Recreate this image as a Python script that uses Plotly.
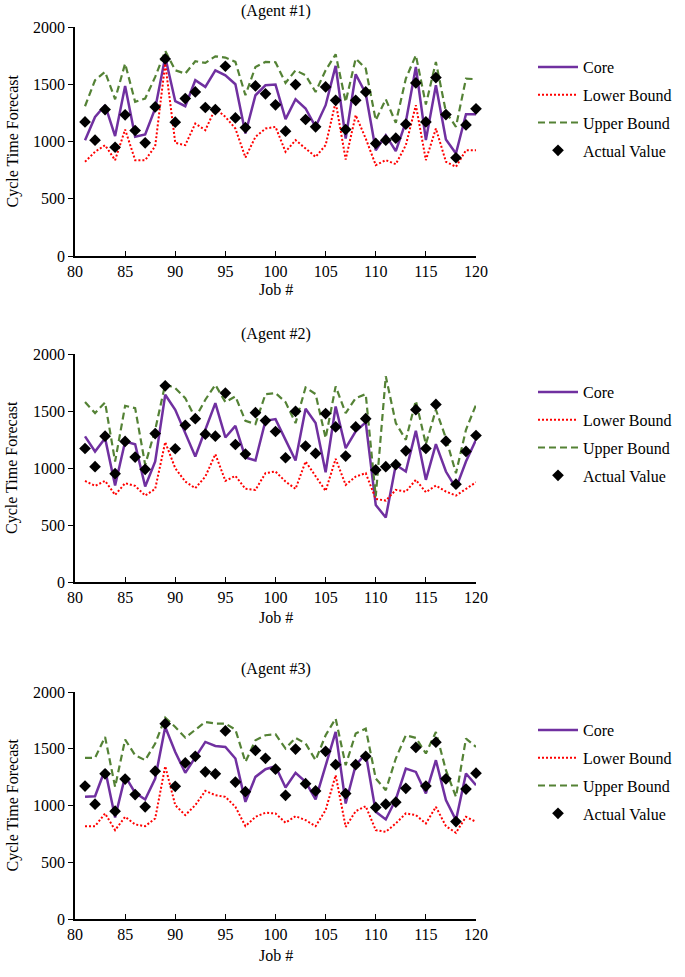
import plotly.graph_objects as go

jobs = list(range(81, 121))

actual = [1171, 1012, 1279, 950, 1233, 1096, 988, 1302, 1721, 1169,
          1375, 1433, 1297, 1279, 1657, 1206, 1122, 1485, 1416, 1320,
          1090, 1497, 1192, 1128, 1477, 1360, 1105, 1360, 1433, 983,
          1012, 1029, 1151, 1512, 1171, 1558, 1235, 858, 1145, 1285]

core1 = [1012, 1215, 1317, 1047, 1485, 1041, 1061, 1288, 1738, 1352,
         1308, 1535, 1477, 1622, 1578, 1500, 1070, 1404, 1491, 1497,
         1195, 1369, 1288, 1128, 1317, 1660, 1026, 1587, 1419, 924,
         1055, 916, 1171, 1651, 1012, 1491, 1017, 895, 1238, 1238]
upper1 = [1308, 1535, 1608, 1369, 1680, 1346, 1375, 1564, 1791, 1622,
          1593, 1701, 1686, 1744, 1733, 1695, 1404, 1651, 1695, 1692,
          1512, 1622, 1578, 1433, 1622, 1762, 1346, 1724, 1637, 1186,
          1369, 1163, 1549, 1753, 1323, 1695, 1259, 1128, 1549, 1544]
lower1 = [823, 910, 968, 837, 1105, 837, 837, 959, 1680, 988,
          968, 1157, 1099, 1288, 1215, 1113, 860, 1041, 1113, 1128,
          910, 1012, 939, 866, 968, 1346, 843, 1230, 1026, 794,
          837, 802, 968, 1317, 837, 1113, 823, 779, 924, 924]

core2 = [1277, 1145, 1262, 846, 1233, 1209, 837, 1057, 1643, 1511,
         1306, 1101, 1335, 1569, 1268, 1370, 1092, 1066, 1414, 1429,
         1247, 1066, 1520, 1394, 963, 1540, 1174, 1321, 1400, 676,
         565, 1028, 969, 1326, 896, 1209, 969, 823, 1057, 1247]
upper2 = [1578, 1482, 1575, 1057, 1546, 1525, 1028, 1335, 1736, 1701,
          1613, 1438, 1599, 1730, 1578, 1628, 1414, 1385, 1648, 1657,
          1578, 1394, 1707, 1648, 1262, 1716, 1482, 1613, 1648, 750,
          1804, 1394, 1247, 1590, 1209, 1511, 1262, 955, 1335, 1555]
lower2 = [887, 843, 887, 764, 867, 843, 758, 817, 1227, 998,
          881, 823, 925, 1121, 887, 931, 817, 808, 955, 969,
          881, 817, 1057, 925, 799, 1080, 852, 925, 955, 729,
          714, 808, 793, 896, 788, 846, 793, 758, 817, 875]

core3 = [1076, 1082, 1317, 895, 1258, 1112, 1053, 1238, 1692, 1472,
         1288, 1422, 1560, 1525, 1516, 1414, 1032, 1252, 1320, 1346,
         1159, 1288, 1208, 1053, 1355, 1648, 1018, 1355, 1458, 944,
         877, 1053, 1326, 1296, 1106, 1399, 1047, 871, 1282, 1179]
upper3 = [1420, 1420, 1604, 1164, 1581, 1443, 1399, 1546, 1774, 1692,
          1598, 1663, 1736, 1722, 1722, 1669, 1384, 1575, 1619, 1628,
          1502, 1596, 1546, 1399, 1619, 1766, 1355, 1634, 1678, 1238,
          1135, 1414, 1619, 1596, 1458, 1648, 1311, 1076, 1590, 1516]
lower3 = [818, 818, 930, 783, 900, 833, 818, 886, 1346, 1003,
          915, 1003, 1129, 1091, 1076, 988, 818, 900, 936, 930,
          848, 906, 871, 818, 959, 1267, 812, 950, 994, 783,
          768, 842, 930, 915, 842, 988, 818, 760, 900, 856]

titles = ["(Agent #1)", "(Agent #2)", "(Agent #3)"]
panels = [(core1, lower1, upper1), (core2, lower2, upper2), (core3, lower3, upper3)]

W, H = 685, 977
FONT = "Liberation Serif"


def px(x):
    return x / W


def py(y):
    return 1 - y / H


# page pixel positions: (plot top, plot bottom, title y, xlabel y, legend top)
geo = [(27, 256, 11, 290, 50), (354, 582, 334, 617, 375), (692, 919, 669, 955, 713)]
x0, x1 = 75, 476

fig = go.Figure()
for i, ((core, lower, upper), title, g) in enumerate(zip(panels, titles, geo)):
    n = i + 1
    xa = "x" if n == 1 else f"x{n}"
    ya = "y" if n == 1 else f"y{n}"
    lg = "legend" if n == 1 else f"legend{n}"
    common = dict(xaxis=xa, yaxis=ya, legend=lg)
    fig.add_trace(go.Scatter(x=jobs, y=core, mode="lines", name="Core",
                             line=dict(color="#7030A0", width=2.5), legendgroup=f"a{n}", **common))
    fig.add_trace(go.Scatter(x=jobs, y=lower, mode="lines", name="Lower Bound",
                             line=dict(color="#FF0000", width=2, dash="2px,2px"), legendgroup=f"b{n}", **common))
    fig.add_trace(go.Scatter(x=jobs, y=upper, mode="lines", name="Upper Bound",
                             line=dict(color="#548235", width=2.2, dash="7px,4px"), legendgroup=f"c{n}", **common))
    fig.add_trace(go.Scatter(x=jobs, y=actual, mode="markers", name="Actual Value", cliponaxis=False,
                             marker=dict(color="black", symbol="diamond", size=9), legendgroup=f"d{n}", **common))

    top, bot, ty, xly, legtop = g
    xkey = "xaxis" if n == 1 else f"xaxis{n}"
    ykey = "yaxis" if n == 1 else f"yaxis{n}"
    fig.update_layout(**{
        xkey: dict(domain=[px(x0), px(x1)], range=[80, 120], anchor=ya, tick0=80, dtick=5,
                   showgrid=False, zeroline=False, showline=True, linecolor="black", linewidth=1.5,
                   ticks="inside", ticklen=5, tickcolor="black",
                   tickfont=dict(family=FONT, size=16, color="black")),
        ykey: dict(domain=[py(bot), py(top)], range=[0, 2000], anchor=xa, dtick=500,
                   showgrid=False, zeroline=False, showline=True, linecolor="black", linewidth=1.5,
                   ticks="outside", ticklen=5, tickcolor="black",
                   tickfont=dict(family=FONT, size=16, color="black")),
        lg: dict(x=px(533), y=py(legtop), xanchor="left", yanchor="top",
                 font=dict(family=FONT, size=16, color="black"), bgcolor="rgba(0,0,0,0)",
                 tracegroupgap=4, itemwidth=40),
    })
    fig.add_annotation(text=title, x=px((x0 + x1) / 2), y=py(ty), xref="paper", yref="paper",
                       xanchor="center", yanchor="middle", showarrow=False,
                       font=dict(family=FONT, size=16, color="black"))
    fig.add_annotation(text="Job #", x=px((x0 + x1) / 2), y=py(xly), xref="paper", yref="paper",
                       xanchor="center", yanchor="middle", showarrow=False,
                       font=dict(family=FONT, size=16, color="black"))
    fig.add_annotation(text="Cycle Time Forecast", x=px(12), y=py((top + bot) / 2),
                       xref="paper", yref="paper", xanchor="center", yanchor="middle",
                       textangle=-90, showarrow=False,
                       font=dict(family=FONT, size=16, color="black"))

fig.update_layout(width=W, height=H, margin=dict(l=0, r=0, t=0, b=0, autoexpand=False),
                  plot_bgcolor="white", paper_bgcolor="white", showlegend=True)

# remove the default page margin so the figure fills the window exactly
fig.write_html("out.html", config={"displayModeBar": False},
               post_script="document.body.style.margin='0px';document.body.style.padding='0px';"
                           "document.body.style.overflow='hidden';")
